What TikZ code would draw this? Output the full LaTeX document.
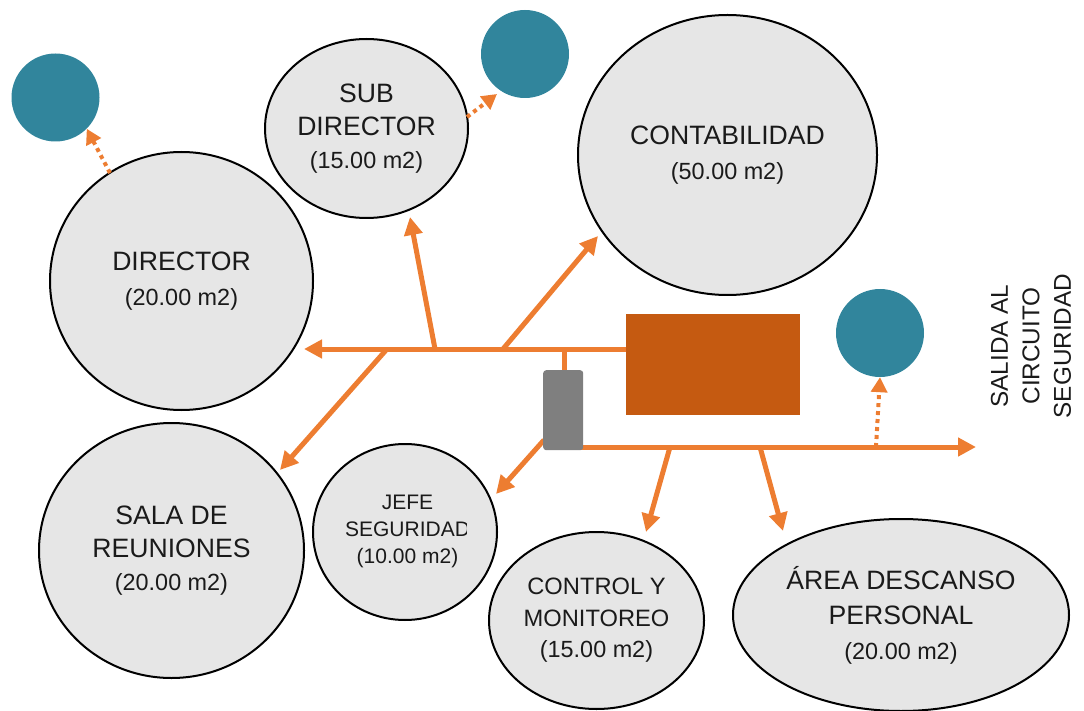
\documentclass[tikz,border=0pt]{standalone}
\usepackage{fontspec}
\setmainfont{Liberation Sans}
\usetikzlibrary{shapes.geometric,arrows.meta}
\definecolor{tealc}{HTML}{31859C}
\definecolor{pipeor}{HTML}{ED7D31}
\definecolor{tankor}{HTML}{C55A11}
\definecolor{valvegr}{HTML}{7F7F7F}
\definecolor{roomfill}{HTML}{E6E6E6}
\definecolor{txt}{HTML}{1A1A1A}
\newcommand\areaf{\fontsize{23.4}{34}\selectfont}
\newcommand\jefef{\fontsize{21}{27}\selectfont}
\begin{document}
\begin{tikzpicture}[x=1pt,y=-1pt,
  room/.style={ellipse,draw=black,line width=2pt,fill=roomfill,inner sep=0pt,align=center,text=txt},
  lbl/.style={font=\fontsize{26.6}{#1}\selectfont},
  exitpt/.style={circle,fill=tealc,minimum size=88pt,inner sep=0pt},
  pipe/.style={draw=pipeor,line width=5pt},
  pipetip/.style={pipe,-{Triangle[length=18pt,width=18pt]}},
  dotpipe/.style={draw=pipeor,line width=4pt,dash pattern=on 4pt off 4pt,-{Triangle[length=15pt,width=16pt]}}]
\useasboundingbox (0,0) rectangle (1084,711);

% exit points
\node[exitpt] (t1) at (55.5,97.5) {};
\node[exitpt] (t2) at (525,54) {};
\node[exitpt] (t3) at (880,333) {};

% rooms
\node[room,lbl=35,minimum width=263pt,minimum height=258pt] (dir) at (181.5,281) {DIRECTOR\\{\areaf (20.00 m2)}};
\node[room,lbl=33,minimum width=203pt,minimum height=179pt] (sub) at (366.5,128.5) {SUB\\DIRECTOR\\{\areaf (15.00 m2)}};
\node[room,lbl=35,minimum width=299pt,minimum height=280pt] (cont) at (727.5,155) {CONTABILIDAD\\{\areaf (50.00 m2)}};
\node[room,lbl=33,minimum width=265pt,minimum height=255pt] (sala) at (171.5,550.5) {SALA DE\\REUNIONES\\{\areaf (20.00 m2)}};
\node[room,minimum width=184pt,minimum height=176pt] (jefe) at (405,532) {};
\begin{scope}
  \clip (300,420) rectangle (466.5,640);
  \node[align=center,text=txt,font=\jefef,inner sep=0pt] (jefetxt) at (407.5,531) {JEFE\\SEGURIDAD\\(10.00 m2)};
\end{scope}
\node[room,font=\fontsize{23.7}{31.5}\selectfont,minimum width=215pt,minimum height=177pt] (ctrl) at (596.5,620.5) {CONTROL Y\\MONITOREO\\{\areaf (15.00 m2)}};
\node[room,lbl=35,minimum width=336pt,minimum height=192pt] (desc) at (901,615) {ÁREA DESCANSO\\PERSONAL\\{\areaf (20.00 m2)}};

% exit label
\node[rotate=90,align=center,text=txt,font=\fontsize{24.3}{31.5}\selectfont] (salida) at (1031,346) {SALIDA AL\\CIRCUITO\\SEGURIDAD};

% junctions and tips
\coordinate (m0) at (626,349);
\coordinate (mL) at (304,349);
\coordinate (jSub) at (435,349);
\coordinate (tSub) at (410,217);
\coordinate (jCont) at (503,349);
\coordinate (tCont) at (598,236);
\coordinate (jSala) at (387,349);
\coordinate (tSala) at (280,470);
\coordinate (jV) at (564,349);
\coordinate (vTop) at (564,372);
\coordinate (l0) at (564,447);
\coordinate (lR) at (976,447);
\coordinate (vJ) at (544,440);
\coordinate (tJefe) at (496,494);
\coordinate (jCtrl) at (670,447);
\coordinate (tCtrl) at (646,532);
\coordinate (jDesc) at (760,447);
\coordinate (tDesc) at (783,531);
\coordinate (jExit) at (876,447);
\coordinate (dDir) at (110,173);
\coordinate (dSub) at (467,117);
\coordinate (tT2) at (497,94);

% pipes
\draw[pipetip] (m0) -- (mL);
\draw[pipetip] (jSub) -- (tSub);
\draw[pipetip] (jCont) -- (tCont);
\draw[pipetip] (jSala) -- (tSala);
\draw[pipe] (jV) -- (vTop);
\draw[pipetip] (l0) -- (lR);
\draw[pipetip] (vJ) -- (tJefe);
\draw[pipetip] (jCtrl) -- (tCtrl);
\draw[pipetip] (jDesc) -- (tDesc);

% dotted exits
\draw[dotpipe] (jExit) -- (t3.south);
\draw[dotpipe] (dDir) -- (t1.south east);
\draw[dotpipe] (dSub) -- (tT2);

% equipment
\node[fill=tankor,minimum width=174pt,minimum height=101pt,inner sep=0pt,anchor=north west] (tank) at (626,314) {};
\node[fill=valvegr,rounded corners=3pt,minimum width=40pt,minimum height=80pt,inner sep=0pt,anchor=north west] (valve) at (543,370) {};
\end{tikzpicture}
\end{document}
